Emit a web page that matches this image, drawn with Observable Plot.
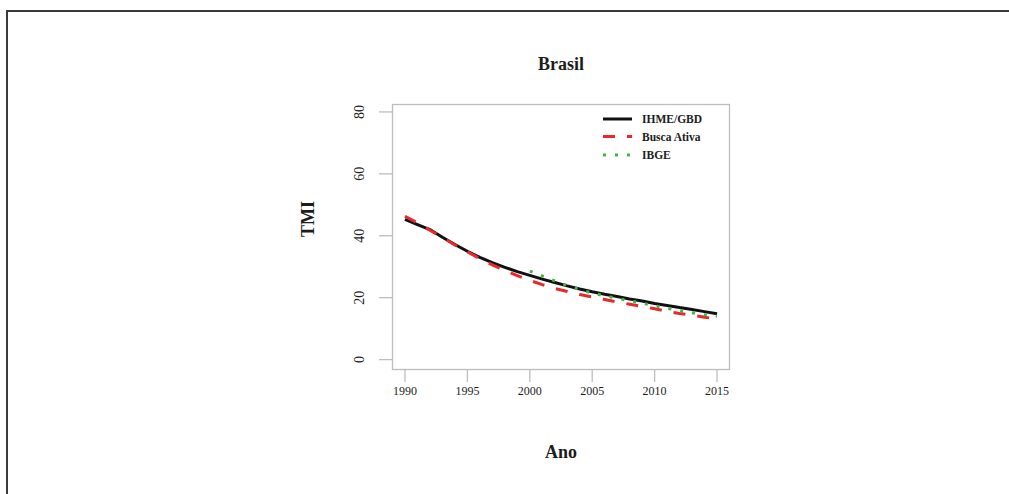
<!DOCTYPE html>
<html>
<head>
<meta charset="utf-8">
<script src="https://cdn.jsdelivr.net/npm/d3@7"></script>
<script src="https://cdn.jsdelivr.net/npm/@observablehq/plot@0.6"></script>
<style>
  html, body { margin: 0; padding: 0; background: #fff; overflow: hidden; width: 1009px; height: 494px; }
  #wrap { position: relative; width: 1009px; height: 494px; overflow: hidden; }
  #topline { position: absolute; left: 6px; top: 10px; width: 1003px; height: 2px; background: #3a3a3a; }
  #leftline { position: absolute; left: 6px; top: 10px; width: 2px; height: 484px; background: #3a3a3a; }
  #chart { position: absolute; left: 0; top: 0; }
  #legend { position: absolute; left: 598px; top: 108px; }
  svg text { font-family: "Liberation Serif", "DejaVu Serif", serif; }
</style>
</head>
<body>
<div id="wrap">
  <div id="topline"></div>
  <div id="leftline"></div>
  <div id="chart"></div>
  <svg id="legend" width="130" height="60"></svg>
</div>
<script>
// ---- data ----
const title = "Brasil";
const xLabel = "Ano";
const yLabel = "TMI";
const seriesNames = ["IHME/GBD", "Busca Ativa", "IBGE"];
const seriesColors = ["#111111", "#e8282b", "#41b541"];
const seriesDash = [null, "12,12", "3,9"];

const yearsFull = [1990,1991,1992,1993,1994,1995,1996,1997,1998,1999,2000,2001,2002,2003,2004,2005,2006,2007,2008,2009,2010,2011,2012,2013,2014,2015];
const ihme = [45.3,43.6,42.0,39.5,37.2,35.0,33.0,31.3,29.8,28.4,27.2,26.0,24.9,23.8,22.8,21.9,21.1,20.4,19.6,18.9,18.1,17.5,16.8,16.2,15.5,14.8];
const buscaAtiva = [46.3,44.2,41.8,39.5,37.0,34.8,32.6,30.6,28.8,27.1,25.6,24.2,23.0,22.0,21.0,20.2,19.4,18.6,17.9,17.2,16.4,15.6,14.9,14.3,13.7,13.1];
const yearsIbge = [2000,2001,2002,2003,2004,2005,2006,2007,2008,2009,2010,2011,2012,2013,2014,2015];
const ibge = [28.6,27.0,25.4,23.9,22.6,21.5,20.6,19.8,19.0,18.2,17.4,16.6,15.8,15.1,14.5,14.0];

const xTicks = [1990, 1995, 2000, 2005, 2010, 2015];
const yTicks = [0, 20, 40, 60, 80];

// ---- build rows ----
const rows = [];
yearsFull.forEach((yr, i) => rows.push({serie: seriesNames[0], ano: yr, tmi: ihme[i]}));
yearsFull.forEach((yr, i) => rows.push({serie: seriesNames[1], ano: yr, tmi: buscaAtiva[i]}));
yearsIbge.forEach((yr, i) => rows.push({serie: seriesNames[2], ano: yr, tmi: ibge[i]}));

const gray = "#bdbdbd";
const ink = "#1c1c1c";
const lineMarks = seriesNames.map((name, i) =>
  Plot.line(rows.filter(d => d.serie === name), {
    x: "ano", y: "tmi",
    stroke: seriesColors[i], strokeWidth: 3,
    strokeDasharray: seriesDash[i] || undefined,
    strokeLinecap: "butt", strokeLinejoin: "round"
  })
);

const chart = Plot.plot({
  width: 1009,
  height: 494,
  marginLeft: 392,
  marginRight: 280,
  marginTop: 104,
  marginBottom: 125,
  style: {fontFamily: "Liberation Serif, serif", background: "transparent", color: ink},
  x: {domain: [1989, 2016]},
  y: {domain: [-3.2, 82.4]},
  marks: [
    Plot.frame({stroke: gray, strokeWidth: 1.3}),
    Plot.axisX(xTicks, {tickSize: 13, tickPadding: 4, stroke: gray, strokeWidth: 1.3, fontSize: 12, fill: ink, label: null, tickFormat: d => String(d)}),
    Plot.axisY(yTicks, {tickSize: 13, tickPadding: 16, tickRotate: -90, stroke: gray, strokeWidth: 1.3, fontSize: 14, fill: ink, label: null}),
    ...lineMarks,
    Plot.text([title], {frameAnchor: "top", dy: -47, fontSize: 18, fontWeight: "bold", fill: ink}),
    Plot.text([xLabel], {frameAnchor: "bottom", dy: 88, fontSize: 18, fontWeight: "bold", fill: ink}),
    Plot.text([yLabel], {frameAnchor: "left", dx: -84, rotate: -90, fontSize: 18, fontWeight: "bold", fill: ink})
  ]
});
document.getElementById("chart").appendChild(chart);

// ---- legend ----
const leg = d3.select("#legend");
const rowY = [11, 28.5, 47];
seriesNames.forEach((name, i) => {
  leg.append("line")
    .attr("x1", 5).attr("x2", 34)
    .attr("y1", rowY[i]).attr("y2", rowY[i])
    .attr("stroke", seriesColors[i]).attr("stroke-width", 3)
    .attr("stroke-dasharray", seriesDash[i]);
  leg.append("text")
    .attr("x", 44).attr("y", rowY[i]).attr("dy", "0.35em")
    .attr("font-size", 11.5).attr("font-weight", "bold").attr("fill", ink)
    .text(name);
});
</script>
</body>
</html>
